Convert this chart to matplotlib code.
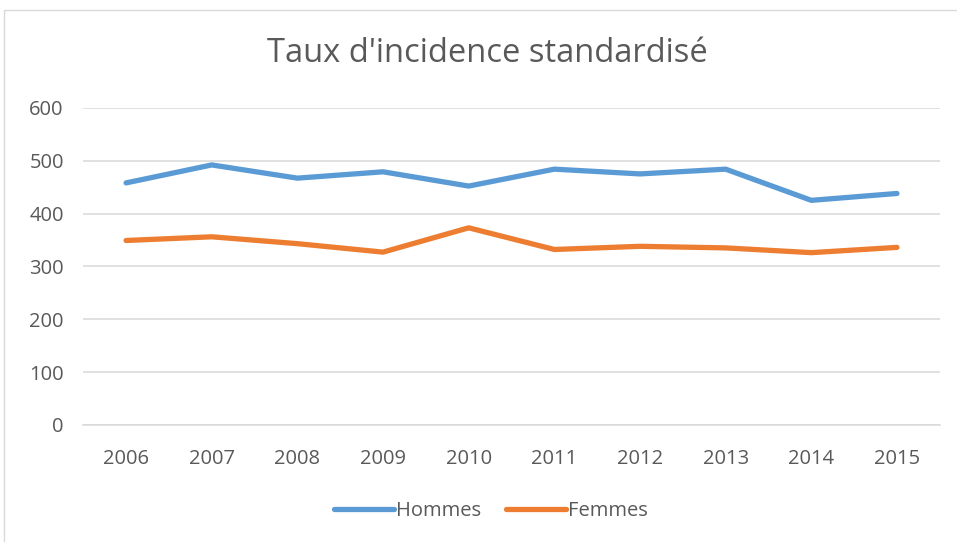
import matplotlib.pyplot as plt
from matplotlib.patches import Rectangle

years = ["2006", "2007", "2008", "2009", "2010", "2011", "2012", "2013", "2014", "2015"]
hommes = [458, 492, 467, 479, 452, 484, 475, 484, 425, 438]
femmes = [349, 356, 343, 327, 373, 332, 338, 335, 326, 336]
yticks = [0, 100, 200, 300, 400, 500, 600]

plt.rcParams["font.family"] = ["Open Sans", "DejaVu Sans"]
grey = "#595959"

fig = plt.figure(figsize=(9.57, 5.42), dpi=100)
ax = fig.add_axes([0.087, 0.216, 0.895, 0.585])

x = range(len(years))
ax.plot(x, hommes, color="#5B9BD5", lw=3.8, solid_capstyle="round", label="Hommes")
ax.plot(x, femmes, color="#ED7D31", lw=3.8, solid_capstyle="round", label="Femmes")

ax.set_xlim(-0.5, len(years) - 0.5)
ax.set_ylim(0, 600)
ax.set_yticks(yticks)
ax.set_xticks(list(x))
ax.set_xticklabels(years)
ax.grid(axis="y", color="#D9D9D9", lw=1.1)
ax.set_axisbelow(True)
for s in ["top", "right", "left"]:
    ax.spines[s].set_visible(False)
ax.spines["bottom"].set_color("#D9D9D9")
ax.spines["bottom"].set_linewidth(1.1)
ax.tick_params(length=0, labelsize=14.5, colors=grey)
ax.tick_params(axis="x", pad=17)
ax.tick_params(axis="y", pad=14)

fig.text(0.509, 0.902, "Taux d'incidence standardisé", ha="center", va="center",
         fontsize=23.5, color=grey)

ax.legend(loc="center", bbox_to_anchor=(0.513, 0.058), bbox_transform=fig.transFigure,
          ncol=2, frameon=False, fontsize=14.5, labelcolor=grey,
          handlelength=3.0, handletextpad=0.1, columnspacing=1.2)

fig.patches.append(Rectangle((4 / 957, -0.01), 1.0, 1 - 10 / 542 + 0.01,
                             transform=fig.transFigure, fill=False,
                             edgecolor="#D9D9D9", lw=1))

fig.savefig("out.png", dpi=100)
